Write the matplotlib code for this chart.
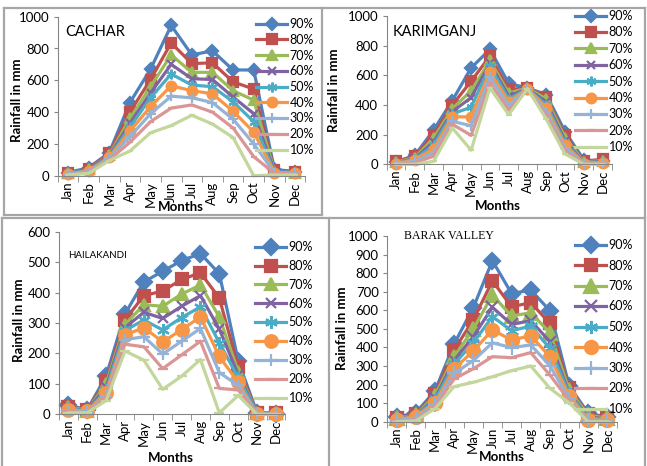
import matplotlib
matplotlib.use("Agg")
import matplotlib.pyplot as plt
from matplotlib.lines import Line2D

plt.rcParams['font.family'] = ['Lato', 'DejaVu Sans']

months = ['Jan', 'Feb', 'Mar', 'Apr', 'May', 'Jun', 'Jul', 'Aug', 'Sep', 'Oct', 'Nov', 'Dec']
levels = ['90%', '80%', '70%', '60%', '50%', '40%', '30%', '20%', '10%']

# rainfall (mm) at each probability level, rows in the order of `levels`
cachar = [
    [20, 50, 145, 460, 670, 945, 760, 785, 665, 665, 40, 25],
    [15, 45, 140, 400, 605, 835, 705, 710, 590, 545, 35, 25],
    [15, 40, 130, 360, 560, 760, 650, 650, 535, 475, 30, 20],
    [15, 40, 125, 330, 520, 700, 610, 605, 495, 390, 30, 20],
    [15, 35, 120, 305, 490, 640, 570, 560, 465, 340, 25, 20],
    [10, 30, 115, 280, 435, 565, 535, 515, 405, 275, 20, 15],
    [10, 25, 110, 245, 390, 500, 490, 460, 355, 200, 20, 15],
    [5, 20, 100, 210, 340, 425, 445, 400, 300, 120, 15, 10],
    [5, 15, 95, 155, 270, 315, 380, 325, 240, 0, 5, 5],
]
karimganj = [
    [15, 60, 230, 430, 650, 775, 545, 515, 470, 220, 30, 20],
    [20, 55, 200, 400, 560, 730, 505, 515, 455, 195, 20, 35],
    [15, 45, 175, 375, 495, 700, 480, 515, 440, 180, 15, 25],
    [10, 40, 150, 355, 450, 680, 460, 510, 420, 160, 10, 20],
    [10, 35, 130, 340, 385, 660, 440, 510, 400, 145, 10, 15],
    [5, 30, 105, 320, 320, 625, 420, 510, 380, 130, 5, 10],
    [5, 20, 80, 290, 260, 590, 395, 510, 355, 110, 5, 10],
    [0, 10, 55, 270, 195, 550, 365, 505, 330, 90, 0, 5],
    [0, 0, 20, 245, 95, 515, 335, 510, 305, 70, 0, 0],
]
hailakandi = [
    [30, 15, 125, 330, 435, 470, 505, 528, 462, 175, 5, 0],
    [25, 15, 110, 310, 390, 405, 443, 465, 382, 155, 5, 5],
    [25, 12, 100, 295, 360, 355, 395, 425, 320, 140, 5, 5],
    [20, 12, 90, 285, 335, 315, 355, 390, 280, 130, 5, 5],
    [20, 10, 80, 275, 310, 277, 318, 353, 235, 120, 5, 5],
    [15, 10, 70, 260, 285, 238, 278, 320, 190, 105, 0, 0],
    [12, 8, 60, 245, 255, 198, 240, 282, 137, 95, 0, 0],
    [10, 5, 55, 230, 222, 150, 195, 240, 85, 80, 0, 0],
    [5, 5, 45, 208, 178, 82, 125, 180, 5, 62, 0, 0],
]
barak_valley = [
    [25, 48, 165, 418, 614, 867, 690, 709, 598, 194, 45, 25],
    [20, 40, 150, 386, 548, 758, 619, 641, 530, 180, 40, 20],
    [18, 35, 140, 350, 499, 682, 569, 587, 479, 170, 35, 18],
    [15, 32, 125, 330, 458, 616, 524, 544, 431, 155, 25, 15],
    [12, 30, 115, 310, 425, 566, 490, 515, 395, 150, 20, 12],
    [10, 28, 100, 284, 381, 494, 440, 463, 350, 140, 10, 10],
    [8, 20, 90, 260, 329, 425, 399, 413, 302, 125, 8, 8],
    [5, 10, 80, 230, 285, 350, 345, 372, 251, 115, 5, 5],
    [0, 5, 70, 189, 212, 242, 275, 300, 180, 102, 0, 0],
]

colors = ['#4F81BD', '#C0504D', '#9BBB59', '#8064A2', '#4BACC6',
          '#F79646', '#95B3D7', '#D99694', '#C3D69B']
markers = ['D', 's', '^', 'x', (6, 2, 0), 'o', '+', '_', '_']
base_ms = [6, 6.5, 7, 6, 7, 7, 7, 5, 5]

W, H = 647, 466
AXIS_GREY = '#868686'


def px_box(x0, x1, ytop, ybot):
    return [x0 / W, 1 - ybot / H, (x1 - x0) / W, (ybot - ytop) / H]


def fx(x):
    return x / W


def fy(y):
    return 1 - y / H


fig = plt.figure(figsize=(W / 100, H / 100), dpi=100)

# panel frames
frame_kw = dict(color='#A6A6A6', lw=1.6, transform=fig.transFigure)
for xs, ys in [((4, 645), (8, 8)), ((4, 4), (8, 215)), ((4, 322), (215, 215)),
               ((322, 322), (8, 215)), ((645, 645), (8, 217)),
               ((2, 645), (217.5, 217.5)), ((2, 2), (217.5, 466)),
               ((329, 329), (217.5, 466)), ((645, 645), (217.5, 466))]:
    fig.add_artist(Line2D([fx(x) for x in xs], [fy(y) for y in ys], **frame_kw))

# name, data, axes box (px), ymax, ystep, title pos, title style, legend (left, top, spacing), marker scale,
# ylabel pos, xlabel pos
panels = [
    ('CACHAR', cachar, (57.7, 305.3, 16.7, 175.7), 1000, 200, (65, 32),
     dict(fontsize=10.5), (256, 18, 0.30), 1.0, (17, 100), (181, 207)),
    ('KARIMGANJ', karimganj, (386.6, 612, 16, 164.3), 1000, 200, (393, 32),
     dict(fontsize=10.5), (575, 10, 0.35), 1.0, (334, 90), (498, 206)),
    ('HAILAKANDI', hailakandi, (58.9, 285.4, 231.7, 414.3), 600, 100, (68, 255),
     dict(fontsize=7), (255, 241, 0.55), 1.3, (19, 320), (171, 458)),
    ('BARAK VALLEY', barak_valley, (387, 617, 236, 421.7), 1000, 100, (404, 236),
     dict(fontsize=8.5, family='Liberation Serif'), (575, 239, 0.68), 1.35, (342, 328), (502, 457)),
]

for name, data, box, ymax, ystep, tpos, tstyle, leg, mscale, ylpos, xlpos in panels:
    ax = fig.add_axes(px_box(*box))
    x = list(range(len(months)))
    for i, vals in enumerate(data):
        ax.plot(x, vals, color=colors[i], lw=2.3, marker=markers[i],
                ms=base_ms[i] * mscale, mec=colors[i], mfc=colors[i], mew=1.6,
                label=levels[i], clip_on=False)
    ax.set_xlim(-0.5, len(months) - 0.5)
    ax.set_ylim(0, ymax)
    ax.set_yticks(range(0, ymax + 1, ystep))
    ax.set_xticks(x)
    ax.set_xticklabels(months, rotation=90)
    ax.set_xticks([i - 0.5 for i in range(len(months) + 1)], minor=True)
    ax.tick_params(axis='x', which='major', length=0, pad=4, labelsize=9.5)
    ax.tick_params(axis='x', which='minor', length=4, color=AXIS_GREY)
    ax.tick_params(axis='y', length=3, color=AXIS_GREY, labelsize=9.5, pad=3)
    for s in ['top', 'right']:
        ax.spines[s].set_visible(False)
    for s in ['left', 'bottom']:
        ax.spines[s].set_color(AXIS_GREY)
    ax.patch.set_alpha(0)

    fig.text(fx(tpos[0]), fy(tpos[1]), name, ha='left', va='center', **tstyle)
    fig.text(fx(ylpos[0]), fy(ylpos[1]), 'Rainfall in mm', rotation=90,
             ha='center', va='center', fontsize=9.5, fontweight='bold')
    fig.text(fx(xlpos[0]), fy(xlpos[1]), 'Months', ha='center', va='center',
             fontsize=9.5, fontweight='bold')

    ax.legend(loc='upper left', bbox_to_anchor=(fx(leg[0]), fy(leg[1])),
              bbox_transform=fig.transFigure, frameon=False, fontsize=9,
              handlelength=2.5, handletextpad=0.2, labelspacing=leg[2],
              borderpad=0, borderaxespad=0, markerscale=1.0)

fig.savefig('out.png', dpi=100)
